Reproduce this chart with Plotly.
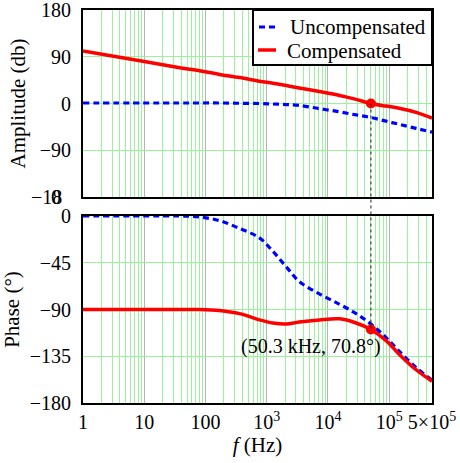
import numpy as np
import plotly.graph_objects as go

# ---------------- data ----------------
freq = [1, 10, 38, 80, 170, 360, 760, 1260, 2090, 3390, 7240, 15500, 28800,
        50300, 89000, 145000, 275000, 500000]
amp_uncomp = [1, 1, 1, 1, 1, 0.5, 0, -1, -2, -3.5, -10, -16, -22,
              -27, -34, -40, -48, -55]
amp_comp = [101, 81, 69, 63, 56, 50, 43, 39, 34.5, 30, 23, 15.5, 8,
            0, -5, -9, -17, -28]
ph_uncomp = [0, 0, 0, -1, -4.5, -12, -21, -34, -49, -63, -75, -85, -94,
             -104, -117, -130, -146, -158]
ph_comp = [-90, -90, -90, -90, -91, -94, -100, -103, -104, -102, -100, -99, -103,
           -109.2, -120, -133, -148, -159]

series_names = ["Uncompensated", "Compensated"]

cross_f = 50300
cross_amp = 0
cross_phase = -109.2
cross_label = "(50.3 kHz, 70.8°)"

xtick_vals = [1, 10, 100, 1e3, 1e4, 1e5, 5e5]
xtick_text = ["1", "10", "100", "10<sup>3</sup>", "10<sup>4</sup>", "10<sup>5</sup>", "5×10<sup>5</sup>"]
amp_ticks = [-180, -90, 0, 90, 180]
amp_ticktext = ["", "−90", "0", "90", "180"]
ph_ticks = [-180, -135, -90, -45, 0]
ph_ticktext = ["−180", "−135", "−90", "−45", "0"]

FONT = "Liberation Serif"
BLUE = "#0000FF"
RED = "#FF0000"
GREEN = "#9CF29C"
GRAY = "#B4B4B4"
DASH = "6px,4px"

W, H = 460, 463
ML, MR, MT, MB = 83, 28, 10, 60
PH = H - MT - MB
PW = W - ML - MR

def py(pix):  # pixel row -> paper y
    return (H - MB - pix) / PH

def px(pix):  # pixel column -> paper x
    return (pix - ML) / PW

top_dom = [py(197), 1.0]
bot_dom = [0.0, py(216)]

minor_vals = [k * 10 ** d for d in range(0, 6) for k in range(2, 10) if k * 10 ** d < 5e5]

fig = go.Figure()

fig.add_trace(go.Scatter(x=freq, y=amp_uncomp, mode="lines", name=series_names[0], showlegend=False,
                         line=dict(color=BLUE, width=3.2, dash=DASH, shape="spline"),
                         xaxis="x", yaxis="y"))
fig.add_trace(go.Scatter(x=freq, y=amp_comp, mode="lines", name=series_names[1], showlegend=False,
                         line=dict(color=RED, width=3.5, shape="spline"),
                         xaxis="x", yaxis="y"))
fig.add_trace(go.Scatter(x=freq, y=ph_uncomp, mode="lines", showlegend=False,
                         line=dict(color=BLUE, width=3.2, dash=DASH, shape="spline"),
                         xaxis="x2", yaxis="y2"))
fig.add_trace(go.Scatter(x=freq, y=ph_comp, mode="lines", showlegend=False,
                         line=dict(color=RED, width=3.5, shape="spline"),
                         xaxis="x2", yaxis="y2"))
fig.add_trace(go.Scatter(x=[cross_f], y=[cross_amp], mode="markers", showlegend=False,
                         marker=dict(color=RED, size=10), xaxis="x", yaxis="y"))
fig.add_trace(go.Scatter(x=[cross_f], y=[cross_phase], mode="markers", showlegend=False,
                         marker=dict(color=RED, size=10), xaxis="x2", yaxis="y2"))

# vertical dotted connector between the two markers (paper coords from data)
y_top = top_dom[0] + (cross_amp + 180) / 360 * (top_dom[1] - top_dom[0])
y_bot = bot_dom[0] + (cross_phase + 180) / 180 * (bot_dom[1] - bot_dom[0])
fig.add_shape(type="line", xref="x", yref="paper", x0=cross_f, x1=cross_f,
              y0=y_top, y1=y_bot, line=dict(color="#202020", width=1, dash="dot"),
              layer="above")

xcommon = dict(type="log", range=[0, np.log10(5e5)], tickmode="array",
               tickvals=xtick_vals, showgrid=True, gridcolor=GRAY, gridwidth=1,
               showline=True, linecolor="black", linewidth=2, mirror=True,
               ticks="", zeroline=False, automargin=False, ticklabeloverflow="allow",
               minor=dict(tickvals=minor_vals, showgrid=True, gridcolor=GREEN, gridwidth=1))

ycommon = dict(tickmode="array", showgrid=True, gridcolor=GREEN,
               showline=True, linecolor="black", linewidth=2, mirror=True, ticks="",
               zeroline=False, ticklabelstandoff=6, automargin=False,
               ticklabeloverflow="allow", tickfont=dict(family=FONT, size=20))

fig.update_layout(
    width=W, height=H,
    margin=dict(l=ML, r=MR, t=MT, b=MB),
    paper_bgcolor="white", plot_bgcolor="white",
    font=dict(family=FONT, size=20, color="black"),
    showlegend=False,
    xaxis=dict(**xcommon, domain=[0, 1], anchor="y", matches="x2", showticklabels=False),
    xaxis2=dict(**xcommon, domain=[0, 1], anchor="y2", ticktext=xtick_text,
                tickfont=dict(family=FONT, size=20),
                title=dict(text="<i>f</i> (Hz)", font=dict(family=FONT, size=21), standoff=2)),
    yaxis=dict(**ycommon, domain=top_dom, anchor="x", range=[-180, 180],
               tickvals=amp_ticks, ticktext=amp_ticktext,
               title=dict(text="Amplitude (db)", font=dict(family=FONT, size=21), standoff=8)),
    yaxis2=dict(**ycommon, domain=bot_dom, anchor="x2", range=[-180, 0],
                tickvals=ph_ticks, ticktext=ph_ticktext,
                title=dict(text="Phase (°)", font=dict(family=FONT, size=21), standoff=8)),
)

# overlapped "-180" label of the amplitude axis
fig.add_annotation(text="−18", xref="paper", yref="y", x=0, y=-180, xanchor="right",
                   yanchor="middle", xshift=-19, showarrow=False, font=dict(family=FONT, size=20))
fig.add_annotation(text="0", xref="paper", yref="y", x=0, y=-180, xanchor="right",
                   yanchor="middle", xshift=-20, showarrow=False, font=dict(family=FONT, size=20))

fig.add_annotation(text=cross_label, xref="x2", yref="y2", x=np.log10(cross_f), y=cross_phase,
                   xanchor="right", yanchor="top", xshift=12, yshift=-4, showarrow=False,
                   font=dict(family=FONT, size=20))

# legend box drawn by hand
fig.add_shape(type="rect", xref="paper", yref="paper", x0=px(253), x1=1.0, y0=py(65), y1=1.0,
              fillcolor="white", line=dict(color="black", width=2), layer="above")
fig.add_shape(type="line", xref="paper", yref="paper", x0=px(259), x1=px(277), y0=py(27), y1=py(27),
              line=dict(color=BLUE, width=3.2, dash=DASH), layer="above")
fig.add_shape(type="line", xref="paper", yref="paper", x0=px(258), x1=px(276), y0=py(50), y1=py(50),
              line=dict(color=RED, width=3.5), layer="above")
fig.add_annotation(text=series_names[0], xref="paper", yref="paper", x=px(288), y=py(27),
                   xanchor="left", yanchor="middle", showarrow=False, font=dict(family=FONT, size=21))
fig.add_annotation(text=series_names[1], xref="paper", yref="paper", x=px(285), y=py(51),
                   xanchor="left", yanchor="middle", showarrow=False, font=dict(family=FONT, size=21))

fig.write_html("out.html")
